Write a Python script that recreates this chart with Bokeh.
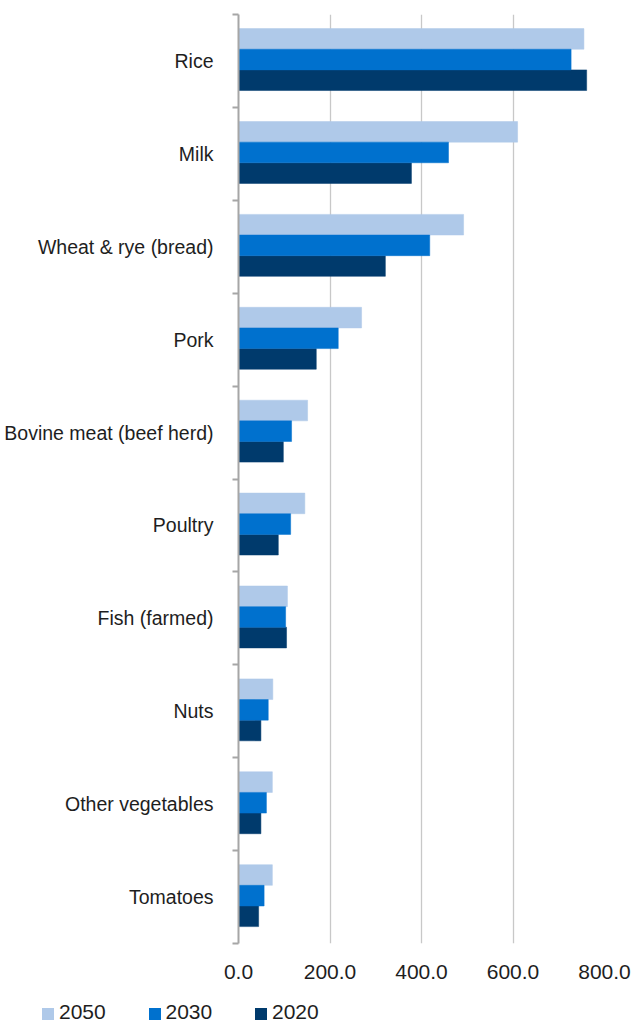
from bokeh.plotting import figure
from bokeh.models import (ColumnDataSource, Range1d, FixedTicker, NumeralTickFormatter,
                          LinearAxis, Grid, Div)
from bokeh.layouts import column
from bokeh.transform import dodge
from bokeh.embed import file_html
from bokeh.resources import INLINE

categories = ["Rice", "Milk", "Wheat & rye (bread)", "Pork", "Bovine meat (beef herd)",
              "Poultry", "Fish (farmed)", "Nuts", "Other vegetables", "Tomatoes"]
v2050 = [755, 610, 492, 269, 151, 145, 107, 75, 74, 74]
v2030 = [727, 459, 418, 218, 116, 114, 103, 65, 61, 56]
v2020 = [761, 378, 321, 170, 98, 87, 105, 49, 49, 44]
x_ticks = [0, 200, 400, 600, 800]
series = ["2050", "2030", "2020"]
colors = ["#AFC9E9", "#0071CE", "#003A6C"]

FONT = "Liberation Sans"
TXT = "#1e1e1e"

idx = list(range(len(categories)))
src = ColumnDataSource(dict(y=idx, v2050=v2050, v2030=v2030, v2020=v2020))

p = figure(width=633, height=985, output_backend="svg", toolbar_location=None,
           x_range=Range1d(0, 800), y_range=Range1d(len(categories) - 0.5, -0.5),
           x_axis_location=None, y_axis_location=None,
           min_border_left=238, min_border_right=29, min_border_top=14, min_border_bottom=42)
p.outline_line_color = None
p.background_fill_color = "white"
p.border_fill_color = "white"

bh = 2 / 9
for name, col, off in zip(series, colors, [-bh, 0, bh]):
    p.hbar(y=dodge("y", off - 0.015, range=p.y_range), right="v" + name, left=0, height=bh,
           source=src, fill_color=col, line_color=col, line_width=0.5)

# x axis
xa = LinearAxis(ticker=FixedTicker(ticks=x_ticks), formatter=NumeralTickFormatter(format="0.0"))
xa.axis_line_color = None
xa.major_tick_line_color = None
xa.minor_tick_line_color = None
xa.major_label_text_font = FONT
xa.major_label_text_font_size = "21px"
xa.major_label_text_color = TXT
xa.major_label_standoff = 15
p.add_layout(xa, "below")

# y axis
ya = LinearAxis(ticker=FixedTicker(ticks=idx, minor_ticks=[i - 0.5 for i in range(len(categories) + 1)]))
ya.major_label_overrides = {i: c for i, c in zip(idx, categories)}
ya.axis_line_color = "#a6a6a6"
ya.axis_line_width = 2
ya.major_tick_line_color = None
ya.major_tick_out = 0
ya.major_tick_in = 0
ya.minor_tick_line_color = "#a6a6a6"
ya.minor_tick_line_width = 2
ya.minor_tick_out = 6
ya.minor_tick_in = 0
ya.major_label_text_font = FONT
ya.major_label_text_font_size = "19.5px"
ya.major_label_text_color = TXT
ya.major_label_standoff = 19
p.add_layout(ya, "left")

p.xgrid.visible = False
p.ygrid.visible = False
g = Grid(dimension=0, ticker=FixedTicker(ticks=x_ticks[1:]))
g.grid_line_color = "#c8c8c8"
g.grid_line_width = 1.3
p.add_layout(g)
p.renderers.insert(0, p.renderers.pop())

# legend row (built from the series names and colours)
items_html = "".join(
    f'<span style="display:inline-block;width:106.5px;white-space:nowrap;">'
    f'<span style="display:inline-block;width:12px;height:12px;background:{c};'
    f'margin-right:5px;vertical-align:-1px;"></span>{n}</span>'
    for n, c in zip(series, colors)
)
legend_div = Div(
    text=f'<div style="font-family:\'{FONT}\';font-size:21px;line-height:21px;color:{TXT};'
         f'padding:16px 0 0 42px;margin:0;">{items_html}</div>',
    width=633, height=38, margin=0,
)

layout = column(p, legend_div, spacing=0)
open("out.html", "w").write(file_html(layout, INLINE))
